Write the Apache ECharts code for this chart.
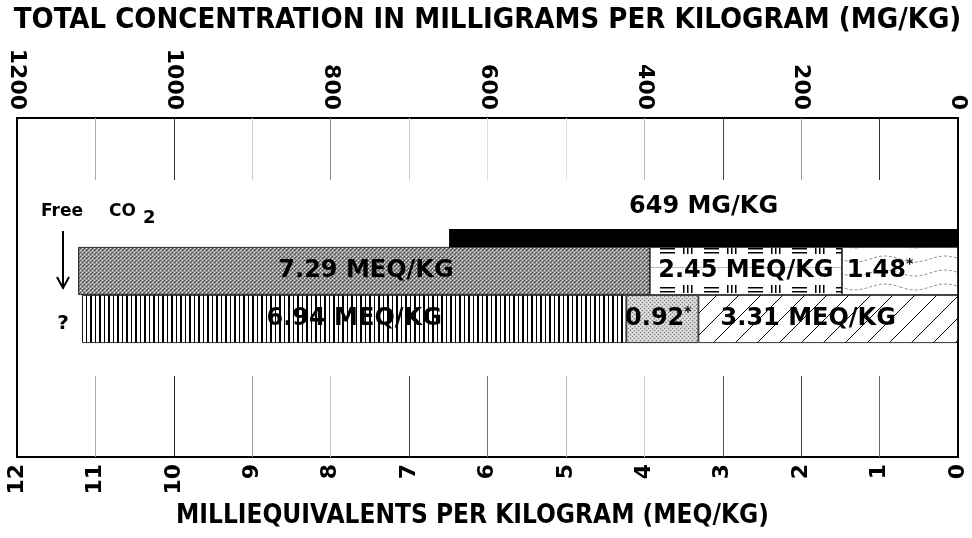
<!DOCTYPE html>
<html>
<head>
<meta charset="utf-8">
<script src="https://cdn.jsdelivr.net/npm/echarts@6/dist/echarts.min.js"></script>
<style>
html, body { margin: 0; padding: 0; background: #fff; }
#chart { width: 972px; height: 538px; }
</style>
</head>
<body>
<div id="chart"></div>
<script>
// rows of the stacked bars, top row first
var rows = ['upper', 'lower'];
// segments counted from 0 (right side) outwards
var segRight = [1.48, 3.31];
var segMiddle = [2.45, 0.92];
var segLeft = [7.29, 6.94];
// which values carry the asterisk
var starRight = [true, false];
var starMiddle = [false, true];
// total concentration, top axis
var totalMg = [649];

var TXT = "'DejaVu Sans', sans-serif";
var TITLE = "'Liberation Sans Narrow', 'DejaVu Sans Condensed', sans-serif";

function tile(w, h, draw) {
    var c = document.createElement('canvas');
    c.width = w; c.height = h;
    var ctx = c.getContext('2d');
    ctx.fillStyle = '#fff';
    ctx.fillRect(0, 0, w, h);
    draw(ctx);
    return { image: c, repeat: 'repeat' };
}

var grayStipple = tile(4, 4, function (ctx) {
    ctx.fillStyle = '#969696'; ctx.fillRect(0, 0, 4, 4);
    ctx.fillStyle = '#444'; ctx.fillRect(0, 0, 1, 1); ctx.fillRect(2, 2, 1, 1); ctx.fillRect(3, 1, 1, 1);
    ctx.fillStyle = '#e6e6e6'; ctx.fillRect(2, 0, 1, 1); ctx.fillRect(0, 2, 1, 1);
});
var lightStipple = tile(4, 4, function (ctx) {
    ctx.fillStyle = '#cfcfcf'; ctx.fillRect(0, 0, 4, 4);
    ctx.fillStyle = '#7a7a7a'; ctx.fillRect(0, 0, 1, 1); ctx.fillRect(2, 2, 1, 1);
    ctx.fillStyle = '#f2f2f2'; ctx.fillRect(2, 0, 1, 1); ctx.fillRect(0, 2, 1, 1);
});
var hatchMarks = tile(44, 39, function (ctx) {
    ctx.fillStyle = '#000';
    ctx.fillRect(0, 14, 15, 1.5); ctx.fillRect(0, 18, 15, 1.5);
    ctx.fillRect(23, 12, 1.5, 8); ctx.fillRect(27, 12, 1.5, 8); ctx.fillRect(31, 12, 1.5, 8);
    ctx.fillStyle = '#bbb';
    ctx.fillRect(0, 33, 44, 1);
});
var wavy = tile(60, 14, function (ctx) {
    ctx.strokeStyle = '#777'; ctx.lineWidth = 0.8;
    ctx.setLineDash([3, 2]);
    ctx.beginPath();
    for (var x = 0; x <= 60; x += 2) {
        var y = 7 + 3 * Math.sin(x / 60 * 2 * Math.PI);
        if (x === 0) ctx.moveTo(x, y); else ctx.lineTo(x, y);
    }
    ctx.stroke();
});
var verticals = tile(9, 4, function (ctx) {
    ctx.fillStyle = '#000';
    ctx.fillRect(0, 0, 2, 4);
    ctx.fillRect(5, 0, 1, 4);
});
var diagonals = tile(22, 22, function (ctx) {
    ctx.strokeStyle = '#000'; ctx.lineWidth = 1;
    ctx.beginPath();
    ctx.moveTo(-2, 24); ctx.lineTo(24, -2);
    ctx.moveTo(-2, 2); ctx.lineTo(2, -2);
    ctx.moveTo(20, 24); ctx.lineTo(24, 20);
    ctx.stroke();
});

var fills = {
    right: [wavy, diagonals],
    middle: [hatchMarks, lightStipple],
    left: [grayStipple, verticals]
};
var shifts = {
    right: [-20, -20],
    middle: [0, -4],
    left: [2, 0]
};

function labelText(v, starred) {
    return starred ? '{v|' + v.toFixed(2) + '}{s|*}' : v.toFixed(2) + ' MEQ/KG';
}

function segData(values, key, stars) {
    return values.map(function (v, i) {
        return {
            value: v,
            itemStyle: { color: fills[key][i] },
            label: {
                formatter: labelText(v, stars ? stars[i] : false),
                offset: [shifts[key][i], 0]
            }
        };
    });
}

var barLabel = {
    show: true,
    position: 'inside',
    color: '#000',
    fontFamily: TXT,
    fontWeight: 'bold',
    fontSize: 24,
    rich: {
        v: { fontFamily: TXT, fontWeight: 'bold', fontSize: 24, color: '#000' },
        s: { fontFamily: TXT, fontWeight: 'bold', fontSize: 14, color: '#000', verticalAlign: 'top', padding: [0, 0, 14, 0] }
    }
};

var tickLabel = {
    fontFamily: TXT, fontWeight: 'bold', fontSize: 22, color: '#000', rotate: 90,
    formatter: function (v) { return String(v); }
};

function bandAxis(gridIndex, colors) {
    return {
        type: 'value', gridIndex: gridIndex, min: 0, max: 12, interval: 1, inverse: true,
        axisLine: { show: false }, axisTick: { show: false }, axisLabel: { show: false },
        splitLine: { show: true, lineStyle: { color: colors, width: 1 } }
    };
}

var chart = echarts.init(document.getElementById('chart'), null, { renderer: 'canvas' });

var option = {
    animation: false,
    backgroundColor: '#fff',
    grid: [
        { left: 17, right: 14, top: 118, bottom: 81, outerBoundsMode: 'none', containLabel: false, show: true, borderColor: '#000', borderWidth: 2, backgroundColor: 'transparent' },
        { left: 17, right: 14, top: 118, height: 62, outerBoundsMode: 'none' },
        { left: 17, right: 14, top: 376, height: 81, outerBoundsMode: 'none' },
        { left: 17, right: 14, top: 247, height: 96, outerBoundsMode: 'none' },
        { left: 17, right: 14, top: 229, height: 18, outerBoundsMode: 'none' }
    ],
    xAxis: [
        {
            type: 'value', gridIndex: 0, position: 'bottom', min: 0, max: 12, interval: 1, inverse: true,
            axisLine: { show: false }, axisTick: { show: false }, splitLine: { show: false },
            axisLabel: Object.assign({ margin: 7 }, tickLabel),
            name: 'MILLIEQUIVALENTS PER KILOGRAM (MEQ/KG)', nameLocation: 'middle', nameGap: 46,
            nameTextStyle: { fontFamily: TITLE, fontWeight: 'bold', fontSize: 26, color: '#000', padding: [0, 30, 0, 0] }
        },
        {
            type: 'value', gridIndex: 0, position: 'top', min: 0, max: 1200, interval: 200, inverse: true,
            axisLine: { show: false }, axisTick: { show: false }, splitLine: { show: false },
            axisLabel: Object.assign({ margin: 8 }, tickLabel),
            name: 'TOTAL CONCENTRATION IN MILLIGRAMS PER KILOGRAM (MG/KG)', nameLocation: 'middle', nameGap: 83,
            nameTextStyle: { fontFamily: TITLE, fontWeight: 'bold', fontSize: 29, color: '#000' }
        },
        bandAxis(1, ['#000', '#333', '#999', '#444', '#bbb', '#ddd', '#ddd', '#ccc', '#888', '#ccc', '#333', '#aaa', '#000']),
        bandAxis(2, ['#000', '#666', '#444', '#555', '#ccc', '#bbb', '#777', '#444', '#ccc', '#999', '#222', '#aaa', '#000']),
        {
            type: 'value', gridIndex: 3, min: 0, max: 12, inverse: true, show: false
        },
        {
            type: 'value', gridIndex: 4, min: 0, max: 1200, inverse: true, show: false
        }
    ],
    yAxis: [
        { type: 'value', gridIndex: 0, show: false },
        { type: 'value', gridIndex: 1, show: false, splitLine: { show: false } },
        { type: 'value', gridIndex: 2, show: false, splitLine: { show: false } },
        { type: 'category', gridIndex: 3, data: rows, inverse: true, show: false },
        { type: 'category', gridIndex: 4, data: ['total'], show: false }
    ],
    series: [
        {
            type: 'bar', xAxisIndex: 4, yAxisIndex: 3, stack: 'meq', barCategoryGap: 0,
            data: segData(segRight, 'right', starRight),
            itemStyle: { borderColor: '#000', borderWidth: 0.8 },
            label: barLabel
        },
        {
            type: 'bar', xAxisIndex: 4, yAxisIndex: 3, stack: 'meq', barCategoryGap: 0,
            data: segData(segMiddle, 'middle', starMiddle),
            itemStyle: { borderColor: '#000', borderWidth: 0.8 },
            label: barLabel
        },
        {
            type: 'bar', xAxisIndex: 4, yAxisIndex: 3, stack: 'meq', barCategoryGap: 0,
            data: segData(segLeft, 'left', null),
            itemStyle: { borderColor: '#000', borderWidth: 0.8 },
            label: barLabel
        },
        {
            type: 'bar', xAxisIndex: 5, yAxisIndex: 4, barCategoryGap: 0,
            data: totalMg,
            itemStyle: { color: '#000' },
            label: {
                show: true, position: 'top', distance: 10, color: '#000',
                fontFamily: TXT, fontWeight: 'bold', fontSize: 24,
                formatter: function (p) { return p.value + ' MG/KG'; }
            }
        }
    ],
    graphic: [
        {
            type: 'text', left: 41, top: 203,
            style: {
                text: '{a|Free}{c|CO}{b|2}',
                rich: {
                    a: { fontFamily: TXT, fontWeight: 'bold', fontSize: 17, fill: '#000' },
                    c: { fontFamily: TXT, fontWeight: 'bold', fontSize: 17, fill: '#000', padding: [0, 0, 0, 26] },
                    b: { fontFamily: TXT, fontWeight: 'bold', fontSize: 18, fill: '#000', padding: [14, 0, 0, 7] }
                }
            }
        },
        { type: 'line', shape: { x1: 63, y1: 231, x2: 63, y2: 286 }, style: { stroke: '#000', lineWidth: 2 } },
        { type: 'polyline', shape: { points: [[57, 277], [63, 288], [69, 277]] }, style: { stroke: '#000', lineWidth: 2, fill: null } },
        {
            type: 'text', x: 63, y: 324,
            style: { text: '?', fontFamily: TXT, fontWeight: 'bold', fontSize: 20, fill: '#000', align: 'center', verticalAlign: 'middle' }
        }
    ]
};

chart.setOption(option);
</script>
</body>
</html>
